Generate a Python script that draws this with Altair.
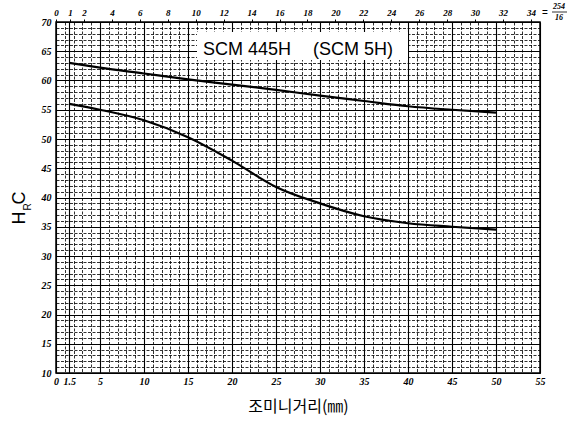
import altair as alt
import pandas as pd

# Jominy end-quench hardenability band for SCM 445H (SCM 5H)
depth_mm = [1.5, 5, 10, 15, 20, 25, 30, 35, 40, 45, 50]
upper_hrc = [63.0, 62.2, 61.2, 60.2, 59.3, 58.4, 57.4, 56.5, 55.6, 55.0, 54.5]
lower_hrc = [56.0, 55.0, 53.2, 50.3, 46.3, 41.8, 39.0, 36.8, 35.6, 35.0, 34.5]

bottom_labels = [0, 1.5, 5, 10, 15, 20, 25, 30, 35, 40, 45, 50, 55]
top_labels_16th = [0, 1, 2, 4, 6, 8, 10, 12, 14, 16, 18, 20, 22, 24, 26, 28, 30, 32, 34]
hrc_labels = list(range(10, 75, 5))

MM_PER_16TH = 25.4 / 16
W, H = 484, 351

curves = pd.concat([
    pd.DataFrame({"depth": depth_mm, "hrc": upper_hrc, "band": "max"}),
    pd.DataFrame({"depth": depth_mm, "hrc": lower_hrc, "band": "min"}),
])
top_df = pd.DataFrame({"mm": [k * MM_PER_16TH for k in top_labels_16th]})
one = pd.DataFrame({"k": [0]})

x_scale = alt.Scale(domain=[0, 55], nice=False, zero=False)
y_scale = alt.Scale(domain=[10, 70], nice=False, zero=False)

x_grid_vals = sorted(set(range(0, 56)) | set(bottom_labels))
y_grid_vals = list(range(10, 71))

label_font = dict(labelFont="Liberation Serif", labelFontStyle="italic",
                  labelFontWeight="bold", labelFontSize=10, labelColor="black")

x_major = "datum.value % 5 === 0 || datum.value === 1.5"
bottom_axis = alt.Axis(
    values=x_grid_vals,
    labelExpr="datum.value === 1.5 ? '1.5' : (datum.value % 5 === 0 ? '' + datum.value : '')",
    ticks=False, domain=False, grid=True, gridColor="black",
    gridWidth={"condition": {"test": x_major, "value": 1.1}, "value": 0.9},
    gridDash={"condition": {"test": x_major, "value": []}, "value": [3, 1.5]},
    gridOpacity={"condition": {"test": x_major, "value": 1}, "value": 0.9},
    labelPadding=3, labelOverlap=False, labelFlush=False,
    title="조미니거리(㎜)", titleFont="Noto Sans CJK KR", titleFontSize=16,
    titleFontWeight="normal", titleColor="black", titleY=38,
    titleBaseline="alphabetic",
    **label_font,
)

y_major = "datum.value % 5 === 0"
left_axis = alt.Axis(
    values=y_grid_vals,
    labelExpr="datum.value % 5 === 0 ? '' + datum.value : ''",
    ticks=False, domain=False, grid=True, gridColor="black",
    gridWidth={"condition": {"test": y_major, "value": 1.1}, "value": 0.9},
    gridDash={"condition": {"test": y_major, "value": []}, "value": [3, 1.5]},
    gridOpacity={"condition": {"test": y_major, "value": 1}, "value": 0.9},
    labelPadding=5, labelOverlap=False, labelFlush=False, title=None,
    **label_font,
)

top_axis = alt.Axis(
    orient="top", values=list(top_df["mm"]),
    labelExpr=f"'' + round(datum.value / {MM_PER_16TH})",
    grid=False, domain=False, ticks=True, tickSize=3, tickColor="black",
    labelPadding=2, labelOverlap=False, labelFlush=False, title=None,
    labelFont="Liberation Serif", labelFontStyle="italic",
    labelFontWeight="bold", labelFontSize=9, labelColor="black",
)

lines = alt.Chart(curves).mark_line(
    color="black", strokeWidth=2.2, interpolate="monotone"
).encode(
    x=alt.X("depth:Q", scale=x_scale, axis=bottom_axis),
    y=alt.Y("hrc:Q", scale=y_scale, axis=left_axis),
    detail="band:N",
)

top = alt.Chart(top_df).mark_tick(opacity=0).encode(
    x=alt.X("mm:Q", scale=x_scale, axis=top_axis),
)

title_box = alt.Chart(one).mark_rect(fill="white").encode(
    x=alt.value(141), x2=alt.value(352), y=alt.value(10), y2=alt.value(38)
)


def label(text, x, y, size, **kw):
    return alt.Chart(one).mark_text(
        text=text, fontSize=size, color="black", **kw
    ).encode(x=alt.value(x), y=alt.value(y))


grade1 = label("SCM 445H", 147, 33, 18, font="Liberation Sans",
               align="left", baseline="alphabetic")
grade2 = label("(SCM 5H)", 257, 33, 18, font="Liberation Sans",
               align="left", baseline="alphabetic")

# HRC with subscript R, written bottom-to-top
h_txt = label("H", -31, 196, 18, font="Liberation Sans", angle=270,
              align="center", baseline="alphabetic")
r_txt = label("R", -25, 185, 10, font="Liberation Sans", angle=270,
              align="center", baseline="alphabetic")
c_txt = label("C", -31, 176, 18, font="Liberation Sans", angle=270,
              align="center", baseline="alphabetic")

# "= 254/16" next to the last top-axis label
frac_style = dict(font="Liberation Serif", fontStyle="italic", fontWeight="bold")
eq_txt = label("=", 489, -9, 10, align="center", baseline="middle",
               font="Liberation Sans")
num_txt = label("254", 503, -15, 8, align="center", baseline="middle", **frac_style)
den_txt = label("16", 503, -4, 8, align="center", baseline="middle", **frac_style)
bar = alt.Chart(one).mark_rule(color="black", strokeWidth=0.8).encode(
    x=alt.value(496), x2=alt.value(511), y=alt.value(-10)
)

chart = alt.layer(
    lines, top, title_box, grade1, grade2,
    h_txt, r_txt, c_txt, eq_txt, num_txt, den_txt, bar,
).resolve_axis(x="independent").properties(
    width=W, height=H, autosize="none",
    padding={"left": 56, "top": 22, "right": 41, "bottom": 52},
    background="white",
).configure_view(stroke="black", strokeWidth=1.5)

chart.save("out.html", embed_options={"renderer": "svg", "actions": False})
